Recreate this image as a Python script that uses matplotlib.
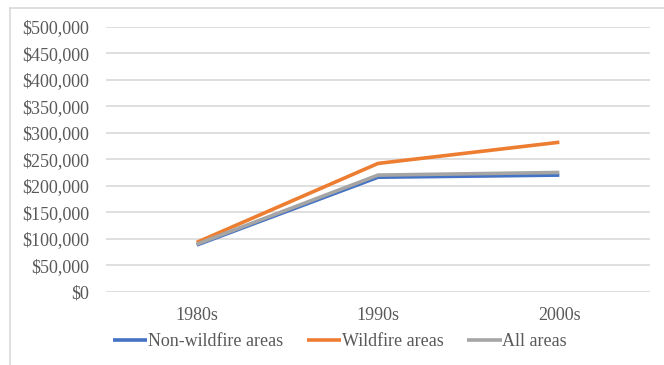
import matplotlib.pyplot as plt
from matplotlib.lines import Line2D
from matplotlib.ticker import FuncFormatter

decades = ["1980s", "1990s", "2000s"]
non_wildfire = [88000, 216000, 220000]
wildfire = [93000, 242000, 282000]
all_areas = [89500, 220000, 225000]

plt.rcParams["font.family"] = ["Liberation Serif", "DejaVu Serif"]
plt.rcParams["font.size"] = 13

W, H = 664, 365
fig = plt.figure(figsize=(W / 100, H / 100), dpi=100)
ax = fig.add_axes([106 / W, (H - 291.7) / H, (650 - 106) / W, (291.7 - 26.7) / H])

# outer chart frame (left and top edges only)
frame_color = "#d9d9d9"
fig.add_artist(Line2D([10 / W, 10 / W], [0, 1 - 8 / H], color=frame_color, lw=1.2))
fig.add_artist(Line2D([10 / W, 1], [1 - 8 / H, 1 - 8 / H], color=frame_color, lw=1.2))

x = list(range(len(decades)))
series = [
    ("Non-wildfire areas", non_wildfire, "#4472c4"),
    ("Wildfire areas", wildfire, "#ed7d31"),
    ("All areas", all_areas, "#a5a5a5"),
]
for label, vals, color in series:
    ax.plot(x, vals, color=color, lw=2.6, label=label, solid_capstyle="butt")

ax.set_xlim(-0.5, 2.5)
ax.set_ylim(0, 500000)
ax.set_yticks(range(0, 500001, 50000))
ax.yaxis.set_major_formatter(FuncFormatter(lambda v, p: f"${int(v):,}"))
ax.set_xticks(x)
ax.set_xticklabels(decades)
ax.grid(axis="y", color="#d9d9d9", lw=1.2)
ax.set_axisbelow(True)
for s in ax.spines.values():
    s.set_visible(False)
ax.tick_params(axis="both", length=0, colors="#595959")
ax.tick_params(axis="y", pad=12)
ax.tick_params(axis="x", pad=11)

fig.legend(loc="center", bbox_to_anchor=(340 / W, 1 - 342 / H), ncol=3, frameon=False,
           handlelength=1.9, handletextpad=0.05, columnspacing=1.3,
           labelcolor="#595959")

fig.savefig("out.png", dpi=100)
